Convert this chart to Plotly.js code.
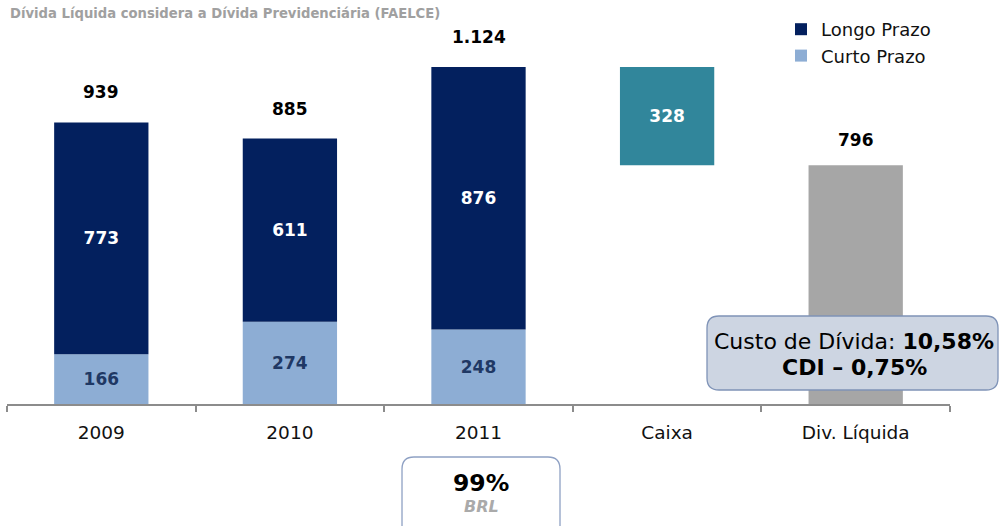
<!DOCTYPE html>
<html>
<head>
<meta charset="utf-8">
<script src="https://cdn.plot.ly/plotly-3.0.1.min.js"></script>
<style>html,body{margin:0;padding:0;background:#fff;}#chart{width:999px;height:526px;}</style>
</head>
<body>
<div id="chart"></div>
<script>
// ---- data ----
var categories = ['2009', '2010', '2011', 'Caixa', 'Div. Líquida'];
var years = ['2009', '2010', '2011'];
var curtoPrazo = [166, 274, 248];
var longoPrazo = [773, 611, 876];
var caixa = [328];
var divLiquida = [796];
var seriesNames = ['Longo Prazo', 'Curto Prazo'];
var titleText = 'Dívida Líquida considera a Dívida Previdenciária (FAELCE)';
var custoLine1 = 'Custo de Dívida: <b>10,58%</b>';
var custoLine2 = '<b>CDI – 0,75%</b>';
var brlPct = '99%';
var brlLabel = 'BRL';

// ---- helpers ----
function fmt(n) {
  var s = String(Math.round(n));
  return s.replace(/\B(?=(\d{3})+(?!\d))/g, '.');
}
var FONT = 'DejaVu Sans, Verdana, sans-serif';
var L = 7, R = 49, T = 30, Bm = 122, Wd = 999, Ht = 526;
var PW = Wd - L - R, PH = Ht - T - Bm, BASE = Ht - Bm;
function px(x) { return (x - L) / PW; }
function py(y) { return (BASE - y) / PH; }
function roundRect(x0, y0, x1, y1, r) {
  function p(x, y) { return px(x).toFixed(5) + ',' + py(y).toFixed(5); }
  return 'M' + p(x0 + r, y0) + ' L' + p(x1 - r, y0) + ' Q' + p(x1, y0) + ' ' + p(x1, y0 + r) +
    ' L' + p(x1, y1 - r) + ' Q' + p(x1, y1) + ' ' + p(x1 - r, y1) +
    ' L' + p(x0 + r, y1) + ' Q' + p(x0, y1) + ' ' + p(x0, y1 - r) +
    ' L' + p(x0, y0 + r) + ' Q' + p(x0, y0) + ' ' + p(x0 + r, y0) + ' Z';
}

var totals = years.map(function (y, i) { return curtoPrazo[i] + longoPrazo[i]; });

var traces = [
  {
    type: 'bar', name: seriesNames[1], x: years, y: curtoPrazo, width: 0.5,
    marker: { color: '#8DADD4' },
    text: curtoPrazo.map(fmt), textposition: 'inside', insidetextanchor: 'middle',
    textfont: { family: FONT, size: 17, color: '#1F3864', weight: 'bold' },
    hoverinfo: 'none'
  },
  {
    type: 'bar', name: seriesNames[0], x: years, y: longoPrazo, base: curtoPrazo, width: 0.5,
    marker: { color: '#03205E' },
    text: longoPrazo.map(fmt), textposition: 'inside', insidetextanchor: 'middle',
    textfont: { family: FONT, size: 17, color: '#FFFFFF', weight: 'bold' },
    hoverinfo: 'none'
  },
  {
    type: 'bar', name: 'Caixa', x: [categories[3]], y: caixa, base: divLiquida, width: 0.5,
    marker: { color: '#31869B' }, showlegend: false,
    text: caixa.map(fmt), textposition: 'inside', insidetextanchor: 'middle',
    textfont: { family: FONT, size: 17, color: '#FFFFFF', weight: 'bold' },
    hoverinfo: 'none'
  },
  {
    type: 'bar', name: 'Div. Líquida', x: [categories[4]], y: divLiquida, width: 0.5,
    marker: { color: '#A6A6A6' }, showlegend: false, hoverinfo: 'none'
  }
];

var annotations = [];
years.forEach(function (y, i) {
  annotations.push({
    x: categories.indexOf(y), y: totals[i], xref: 'x', yref: 'y', text: '<b>' + fmt(totals[i]) + '</b>',
    showarrow: false, yanchor: 'middle', yshift: 30,
    font: { family: FONT, size: 17, color: '#000' }
  });
});
annotations.push({
  x: categories.indexOf('Div. Líquida'), y: divLiquida[0], xref: 'x', yref: 'y', text: '<b>' + fmt(divLiquida[0]) + '</b>',
  showarrow: false, yanchor: 'middle', yshift: 25,
  font: { family: FONT, size: 17, color: '#000' }
});
annotations.push({
  x: px(8), y: py(13), xref: 'paper', yref: 'paper', xanchor: 'left', yanchor: 'middle',
  text: '<b>' + titleText + '</b>', showarrow: false,
  font: { family: FONT, size: 13.2, color: '#A0A0A0' }
});
annotations.push({
  x: px(854), y: py(341), xref: 'paper', yref: 'paper', xanchor: 'center', yanchor: 'middle',
  text: custoLine1, showarrow: false,
  font: { family: FONT, size: 22, color: '#000' }
});
annotations.push({
  x: px(854), y: py(367), xref: 'paper', yref: 'paper', xanchor: 'center', yanchor: 'middle',
  text: custoLine2, showarrow: false,
  font: { family: FONT, size: 22, color: '#000' }
});
annotations.push({
  x: px(481), y: py(483), xref: 'paper', yref: 'paper', xanchor: 'center', yanchor: 'middle',
  text: '<b>' + brlPct + '</b>', showarrow: false,
  font: { family: FONT, size: 23.5, color: '#000' }
});
annotations.push({
  x: px(481), y: py(506), xref: 'paper', yref: 'paper', xanchor: 'center', yanchor: 'middle',
  text: '<b><i>' + brlLabel + '</i></b>', showarrow: false,
  font: { family: FONT, size: 16, color: '#AAAAAA' }
});

var shapes = [
  {
    type: 'path', xref: 'paper', yref: 'paper', layer: 'above',
    path: roundRect(707, 316, 998, 390, 12),
    fillcolor: '#CDD5E2', line: { color: '#7F93B7', width: 1.3 }
  },
  {
    type: 'path', xref: 'paper', yref: 'paper', layer: 'above',
    path: roundRect(402, 457, 560, 545, 12),
    fillcolor: '#FFFFFF', line: { color: '#8FA1C4', width: 1.3 }
  }
];

var layout = {
  width: Wd, height: Ht,
  margin: { l: L, r: R, t: T, b: Bm, pad: 0 },
  paper_bgcolor: '#FFFFFF', plot_bgcolor: '#FFFFFF',
  barmode: 'overlay',
  showlegend: true,
  legend: {
    x: px(781), y: py(11), xanchor: 'left', yanchor: 'top',
    traceorder: 'reversed', bgcolor: 'rgba(0,0,0,0)',
    font: { family: FONT, size: 18, color: '#111' }, tracegroupgap: 0
  },
  xaxis: {
    type: 'category', categoryorder: 'array', categoryarray: categories,
    range: [-0.5, 4.5], fixedrange: true,
    showline: true, linecolor: '#8C8C8C', linewidth: 2,
    ticks: 'outside', tickson: 'boundaries', ticklen: 6, tickwidth: 2, tickcolor: '#8C8C8C',
    ticklabelstandoff: 11,
    showgrid: false, zeroline: false,
    tickfont: { family: FONT, size: 18.5, color: '#111' }
  },
  yaxis: {
    range: [0, 1247], visible: false, showgrid: false, zeroline: false, fixedrange: true
  },
  annotations: annotations,
  shapes: shapes
};

Plotly.newPlot('chart', traces, layout, { displayModeBar: false, staticPlot: true });
</script>
</body>
</html>
